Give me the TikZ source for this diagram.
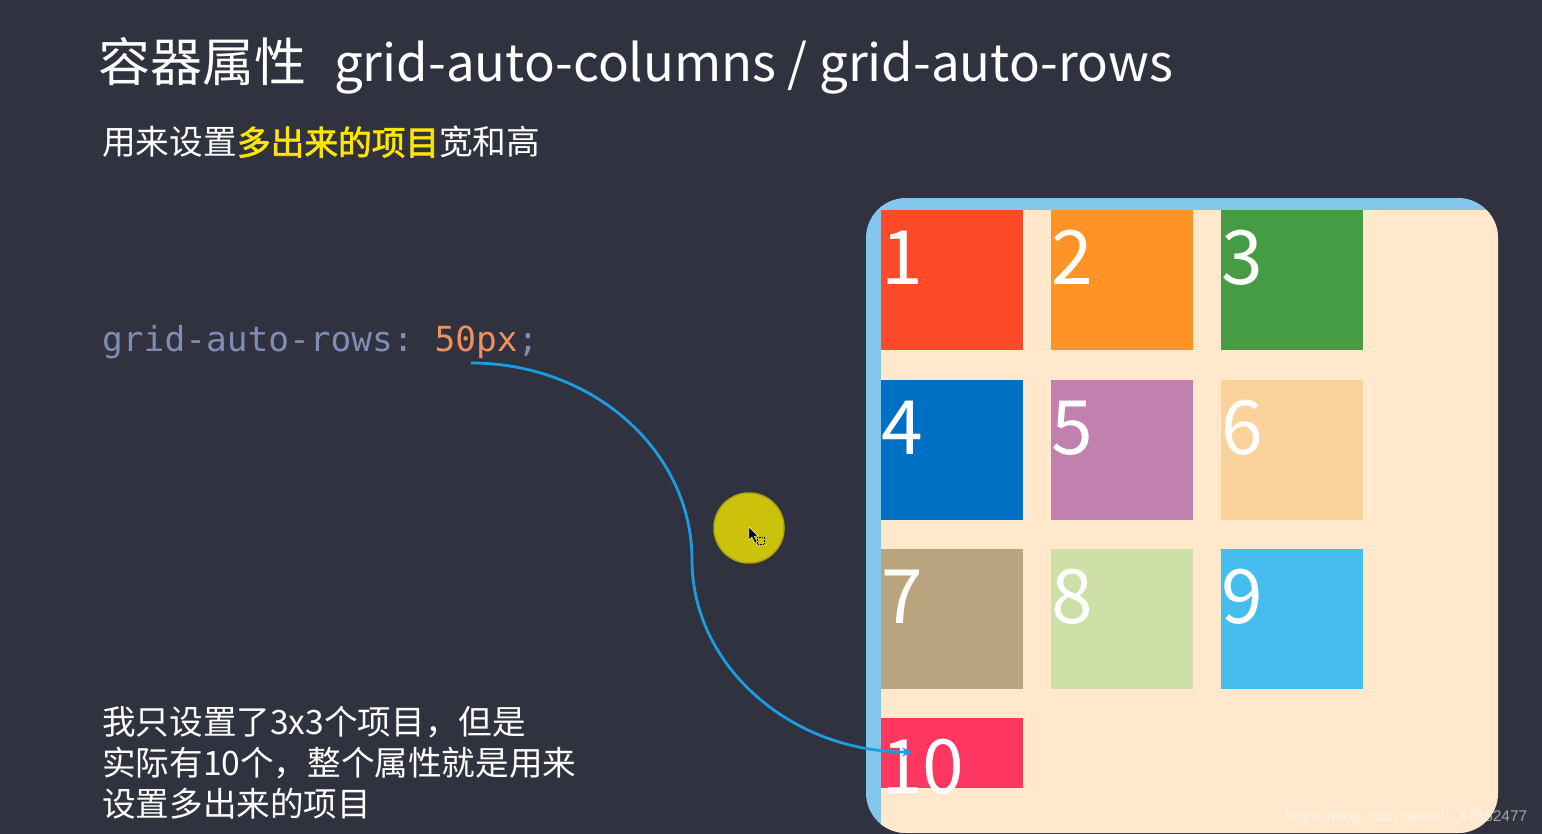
\documentclass[tikz,border=0pt]{standalone}
\usepackage{fontspec}
\setmainfont{Noto Sans CJK SC}[AutoFakeBold=2]
\setmonofont{DejaVu Sans Mono}
\newfontfamily\urlfont{Liberation Sans}
\usetikzlibrary{positioning}
\usetikzlibrary{calc}
\usetikzlibrary{arrows.meta}

\definecolor{bg}{HTML}{30333F}
\definecolor{rim}{HTML}{85C6EC}
\definecolor{paper}{HTML}{FFE8CB}
\definecolor{hl}{HTML}{FFE500}
\definecolor{code}{HTML}{7F8CB4}
\definecolor{val}{HTML}{F0905E}
\definecolor{link}{HTML}{1C9DE2}
\definecolor{spot}{HTML}{CDC20B}
\definecolor{item1}{HTML}{FF4A2A}
\definecolor{item2}{HTML}{FF9326}
\definecolor{item3}{HTML}{469B45}
\definecolor{item4}{HTML}{0070C4}
\definecolor{item5}{HTML}{C280AE}
\definecolor{item6}{HTML}{FAD29C}
\definecolor{item7}{HTML}{B9A47D}
\definecolor{item8}{HTML}{CFDFA8}
\definecolor{item9}{HTML}{45BDEE}
\definecolor{item10}{HTML}{FE3761}

\begin{document}
\begin{tikzpicture}[x=1pt, y=-1pt,
    txt/.style={anchor=base west, inner sep=0, text=white},
    item/.style={anchor=north west, inner sep=0, minimum width=142pt, minimum height=140pt},
    num/.style={anchor=base west, inner sep=0, text=white, font=\fontsize{75}{80}\selectfont},
    arc/.style={link, line width=2.8pt, -{Stealth[length=11pt, width=9pt]}}]
  % background and page size
  \fill[bg] (0,0) rectangle (1542,834);
  \useasboundingbox (0,0) rectangle (1542,834);

  % texts on the left
  \node[txt, font=\fontsize{52}{60}\selectfont] (title) at (98,82)
    {容器属性\hspace{28pt}{\fontsize{51}{60}\selectfont grid-auto-columns / grid-auto-rows}};
  \node[txt, font=\fontsize{33.7}{40}\selectfont] (sub) at (102,155)
    {用来设置\textcolor{hl}{\bfseries 多出来的项目}宽和高};
  \node[txt, text=code, font=\ttfamily\fontsize{34.5}{40}\selectfont] (rows) at (102,352)
    {grid-auto-rows: \textcolor{val}{50px};};
  \node[anchor=north west, inner sep=0, align=left, text=white, font=\fontsize{33.6}{41}\selectfont] (note) at (102,706)
    {我只设置了3x3个项目，但是\\实际有10个，整个属性就是用来\\设置多出来的项目};

  % grid container
  \begin{scope}
    \clip[rounded corners=40pt] (866,198) rectangle (1498,833);
    \fill[rim] (866,198) rectangle (1498,833);
    \fill[paper] (881,210) rectangle (1510,840);
  \end{scope}

  % items 1 to 9
  \foreach \n/\c/\r in {1/0/0,2/1/0,3/2/0,4/0/1,5/1/1,6/2/1,7/0/2,8/1/2,9/2/2} {
    \node[item, fill=item\n] (n\n) at ({881+170*\c},{210+169.3*\r}) {};
    \node[num] at ($(n\n.north west)+(0,75)$) {\n};
  }
  % the extra item
  \node[item, fill=item10, minimum height=70pt] (n10) at (881,718) {};
  \node[num] at ($(n10.north west)+(0,75)$) {10};

  % pointer spot
  \node[circle, fill=spot, draw=spot!85!black, line width=1.5pt, minimum size=70pt] (spot) at (749,528) {};
  \draw[fill=black, draw=white, line width=0.4pt] (749,527) -- (749,540) -- (752,537) -- (755,543)
    -- (757,542) -- (754,536) -- (758,536) -- cycle;
  \draw[black, densely dotted, line width=0.6pt] (757,537) rectangle (764,544);

  % connector from the value to item 10
  \coordinate (from) at (471,363);
  \coordinate (tip) at (913,752);
  \draw[arc] (from) .. controls (593,363) and (692,451) .. (692,560)
    .. controls (692,666) and (791,752) .. (tip);

  % watermark
  \node[txt, text=white, opacity=0.55, font=\urlfont\fontsize{15.5}{18}\selectfont] (mark) at (1285,821)
    {https://blog.csdn.net/m0\_47652477};
\end{tikzpicture}
\end{document}
